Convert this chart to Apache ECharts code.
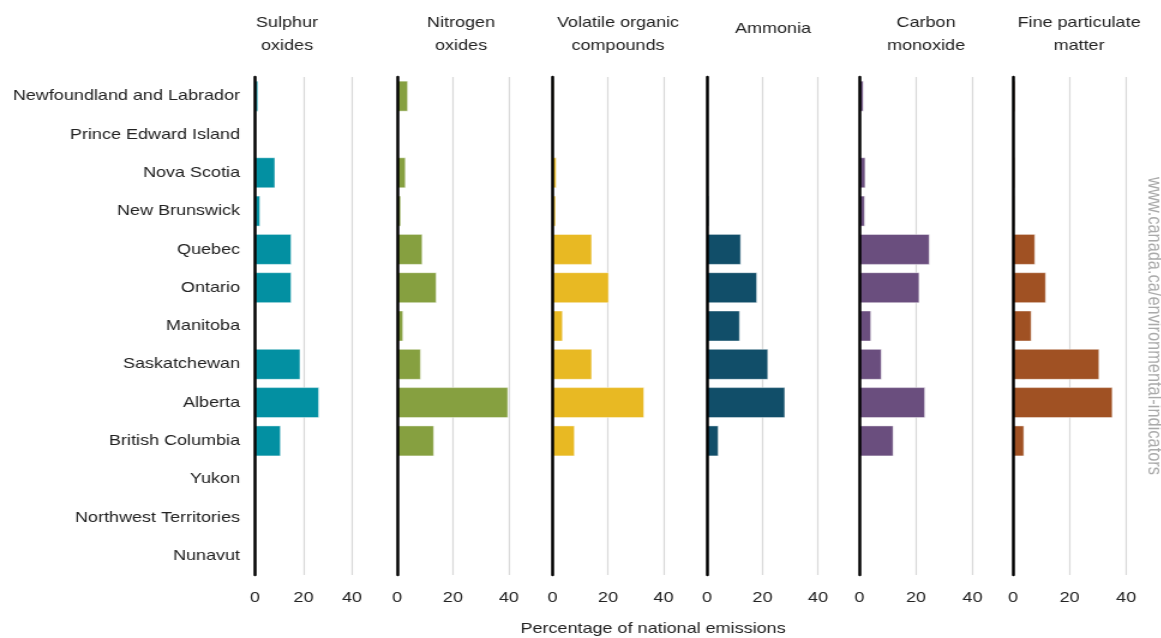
<!DOCTYPE html>
<html>
<head>
<meta charset="utf-8">
<script src="https://cdn.jsdelivr.net/npm/echarts@6/dist/echarts.min.js"></script>
<style>
  html, body { margin: 0; padding: 0; background: #fff; overflow: hidden; }
  /* the original picture is stretched sideways, so draw narrower and stretch */
  #main { width: 967.5px; height: 638px; transform: scaleX(1.2); transform-origin: 0 0; }
</style>
</head>
<body>
<div id="main"></div>
<script>
// provinces / territories, top to bottom
var provinces = ['Newfoundland and Labrador', 'Prince Edward Island', 'Nova Scotia', 'New Brunswick',
    'Quebec', 'Ontario', 'Manitoba', 'Saskatchewan', 'Alberta', 'British Columbia',
    'Yukon', 'Northwest Territories', 'Nunavut'];

var pollutants = ['Sulphur\noxides', 'Nitrogen\noxides', 'Volatile organic\ncompounds', 'Ammonia', 'Carbon\nmonoxide', 'Fine particulate\nmatter'];

// percentage of national emissions
var sulphurOxides   = [1.4, 0, 8.4, 2.2, 15.1, 15.1, 0, 18.8, 26.5, 10.7, 0, 0, 0];
var nitrogenOxides  = [4.0, 0, 3.2, 1.5, 9.2, 14.2, 2.3, 8.6, 39.8, 13.3, 0, 0.4, 0.4];
var volatileOrganic = [0.6, 0, 1.5, 1.3, 14.3, 20.4, 3.8, 14.3, 33.1, 8.1, 0, 0, 0];
var ammonia         = [0, 0, 0, 0.8, 12.3, 18.1, 11.9, 22.1, 28.2, 4.2, 0, 0, 0];
var carbonMonoxide  = [1.5, 0, 2.2, 2.0, 24.9, 21.3, 4.2, 7.9, 23.3, 12.1, 0, 0, 0];
var fineParticulate = [0.8, 0, 0.7, 0.6, 7.9, 11.7, 6.6, 30.6, 35.3, 4.0, 0, 0, 0];

var xTicks = [0, 20, 40];

var seriesData = [sulphurOxides, nitrogenOxides, volatileOrganic, ammonia, carbonMonoxide, fineParticulate];
var colors = ['#0390a2', '#86a040', '#e8b923', '#114e69', '#6a4e7e', '#a05123'];

// panel layout (px, before the 1.2 sideways stretch)
var panelLeft  = [212.5, 330.8, 460.4, 589.2, 716.2, 844.2];
var panelWidth = [80.8, 93.3, 92.5, 92.5, 94.2, 94.2];
var titleX     = [234.2, 379.2, 510, 639.2, 766.7, 894.2];

var font = 'Arial, "Liberation Sans", sans-serif';

var grids = [], xAxes = [], yAxes = [], series = [], titles = [];
for (var i = 0; i < 6; i++) {
    grids.push({ left: panelLeft[i], width: panelWidth[i], top: 77, height: 498 });
    xAxes.push({
        gridIndex: i, type: 'value', min: xTicks[0], max: xTicks[xTicks.length - 1], interval: 20,
        axisLine: { show: false }, axisTick: { show: false },
        splitLine: { lineStyle: { color: '#d9d9d9', width: 1.2 } },
        axisLabel: { color: '#222', fontSize: 15, fontFamily: font, margin: 15 }
    });
    yAxes.push({
        gridIndex: i, type: 'category', data: provinces, inverse: true, z: 5,
        axisLine: { show: true, onZero: false, lineStyle: { color: '#000', width: 2.5 } },
        axisTick: { show: false },
        axisLabel: { show: i === 0, color: '#222', fontSize: 15, fontFamily: font, margin: 12.5, padding: [4, 0, 0, 0] }
    });
    series.push({
        type: 'bar', xAxisIndex: i, yAxisIndex: i, data: seriesData[i],
        barWidth: 31,
        itemStyle: { color: colors[i], borderColor: 'rgba(255,255,255,0.45)', borderWidth: 1 }
    });
    titles.push({
        text: pollutants[i], left: titleX[i], top: pollutants[i].indexOf('\n') < 0 ? 12 : 6, textAlign: 'center',
        textStyle: { color: '#222', fontSize: 15, fontWeight: 'normal', fontFamily: font, lineHeight: 23 }
    });
}

var myChart = echarts.init(document.getElementById('main'), null, { renderer: 'canvas' });
myChart.setOption({
    animation: false,
    backgroundColor: '#fff',
    title: titles,
    grid: grids,
    xAxis: xAxes,
    yAxis: yAxes,
    series: series,
    graphic: [
        {
            type: 'text', x: 544.2, y: 621,
            style: { text: 'Percentage of national emissions', fill: '#222', font: '15px ' + font,
                align: 'center', verticalAlign: 'top' }
        },
        {
            type: 'text', x: 961.5, y: 326, rotation: -Math.PI / 2,
            style: { text: 'www.canada.ca/environmental-indicators', fill: '#aaa', font: '16.4px ' + font,
                align: 'center', verticalAlign: 'middle' }
        }
    ]
});
</script>
</body>
</html>
